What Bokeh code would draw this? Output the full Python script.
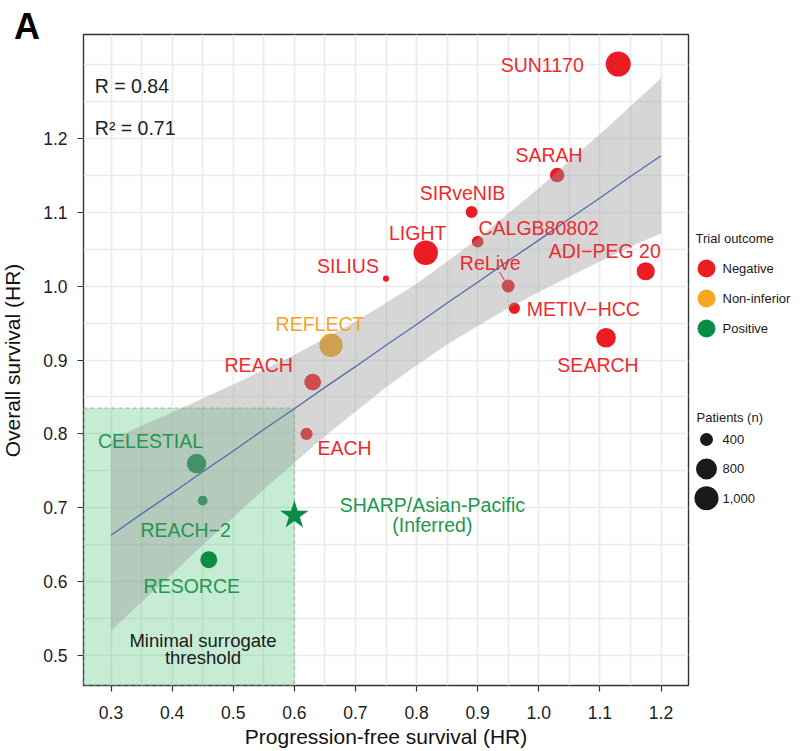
import math
from bokeh.plotting import figure
from bokeh.models import Range1d, FixedTicker, BoxAnnotation, Label, ColumnDataSource
from bokeh.layouts import row
from bokeh.embed import file_html
from bokeh.resources import INLINE
from bokeh.core.properties import value

FONT = "Liberation Sans"

# ---------------- data ----------------
trials = ["SUN1170", "SARAH", "SIRveNIB", "CALGB80802", "LIGHT", "ADI\u2212PEG 20",
          "SILIUS", "ReLive", "METIV\u2212HCC", "SEARCH", "REFLECT", "REACH", "EACH",
          "CELESTIAL", "REACH\u22122", "RESORCE"]
pfs_hr = [1.13, 1.03, 0.89, 0.90, 0.815, 1.175, 0.75, 0.95, 0.96, 1.11, 0.66, 0.63, 0.62,
          0.44, 0.45, 0.46]
os_hr = [1.30, 1.15, 1.10, 1.06, 1.045, 1.02, 1.01, 1.00, 0.97, 0.93, 0.92, 0.87, 0.80,
         0.76, 0.71, 0.63]
outcome = ["Negative"] * 10 + ["Non-inferior"] + ["Negative"] * 2 + ["Positive"] * 3
patients = [1074, 459, 360, 356, 1035, 635, 205, 397, 340, 720, 954, 565, 371, 707, 292, 573]

sharp_label = ["SHARP/Asian-Pacific", "(Inferred)"]
sharp_pfs = [0.60]
sharp_os = [0.69]

# regression fit and 95% band
fit_x = [0.30, 0.35, 0.40, 0.45, 0.50, 0.55, 0.60, 0.65, 0.70, 0.75, 0.80, 0.85, 0.90,
         0.95, 1.00, 1.05, 1.10, 1.15, 1.20]
fit_y = [0.663, 0.692, 0.720, 0.749, 0.777, 0.806, 0.834, 0.863, 0.891, 0.920, 0.948,
         0.977, 1.005, 1.034, 1.062, 1.091, 1.119, 1.148, 1.176]
band_upper = [0.792, 0.811, 0.829, 0.848, 0.867, 0.887, 0.907, 0.929, 0.952, 0.977, 1.003,
              1.033, 1.064, 1.098, 1.132, 1.169, 1.205, 1.243, 1.281]
band_lower = [0.534, 0.573, 0.611, 0.650, 0.687, 0.725, 0.761, 0.797, 0.830, 0.863, 0.893,
              0.921, 0.946, 0.970, 0.992, 1.013, 1.033, 1.053, 1.071]

r_text = "R = 0.84"
r2_text = "R\u00b2 = 0.71"
threshold_pfs = 0.60
threshold_os = 0.835
threshold_text = ["Minimal surrogate", "threshold"]

x_title = "Progression-free survival (HR)"
y_title = "Overall survival (HR)"
panel_letter = "A"

x_ticks = [0.3, 0.4, 0.5, 0.6, 0.7, 0.8, 0.9, 1.0, 1.1, 1.2]
x_tick_labels = ["0.3", "0.4", "0.5", "0.6", "0.7", "0.8", "0.9", "1.0", "1.1", "1.2"]
y_ticks = [0.5, 0.6, 0.7, 0.8, 0.9, 1.0, 1.1, 1.2]
y_tick_labels = ["0.5", "0.6", "0.7", "0.8", "0.9", "1.0", "1.1", "1.2"]

outcome_levels = ["Negative", "Non-inferior", "Positive"]
legend_patients = [400, 800, 1000]
legend_patient_labels = ["400", "800", "1,000"]

# ---------------- styles ----------------
point_colors = {"Negative": "#EC1C24", "Non-inferior": "#F6A623", "Positive": "#0B8C45"}
text_colors = {"Negative": "#EE2A2F", "Non-inferior": "#F5A52B", "Positive": "#23964F"}

# label offsets in pixels (dx right, dy down) relative to the point
label_offsets = {
    "SUN1170": (-76, 1), "SARAH": (-8, -20), "SIRveNIB": (-9, -19),
    "CALGB80802": (61, -14), "LIGHT": (-8, -20), "ADI\u2212PEG 20": (-41, -20),
    "SILIUS": (-38, -13), "ReLive": (-18, -23), "METIV\u2212HCC": (69, 1),
    "SEARCH": (-8, 27), "REFLECT": (-11, -21), "REACH": (-54, -17), "EACH": (38, 14),
    "CELESTIAL": (-46, -23), "REACH\u22122": (-17, 29), "RESORCE": (-17, 26),
}


def diam(n):
    return math.sqrt(0.68 * n - 103)


H = 750
W_LEFT, W_MAIN, W_LEG = 40, 653, 107


def blank_strip(width):
    f = figure(width=width, height=H, x_range=Range1d(0, width), y_range=Range1d(H, 0),
               output_backend="svg", toolbar_location=None, min_border=0,
               x_axis_location=None, y_axis_location=None)
    f.title.visible = False
    f.grid.visible = False
    f.outline_line_color = None
    f.frame_align = False
    return f


# ---------------- left strip: panel letter + y title ----------------
left = blank_strip(W_LEFT)
left.text([26.5], [26], text=[panel_letter], text_align="center", text_baseline="middle",
          text_font=value(FONT), text_font_size="36px", text_font_style="bold",
          text_color="#000000")
left.text([12], [360], text=[y_title], angle=math.pi / 2, text_align="center",
          text_baseline="middle", text_font=value(FONT), text_font_size="21px",
          text_color="#111111")

# ---------------- main panel ----------------
p = figure(width=W_MAIN, height=H, x_range=Range1d(0.255, 1.245), y_range=Range1d(0.46, 1.34),
           output_backend="svg", toolbar_location=None,
           min_border_left=41, min_border_right=5, min_border_top=34, min_border_bottom=65)
p.frame_align = False
p.title.visible = False
p.background_fill_color = "white"
p.border_fill_color = "white"
p.outline_line_color = "#333333"
p.outline_line_width = 1.4

grid_x = [round(0.30 + 0.05 * i, 2) for i in range(19)]
grid_y = [round(0.50 + 0.05 * i, 2) for i in range(17)]
p.xgrid.ticker = FixedTicker(ticks=grid_x)
p.ygrid.ticker = FixedTicker(ticks=grid_y)
p.grid.grid_line_color = "#EBEBEB"
p.grid.grid_line_width = 1.7

for ax, ticks, labels in ((p.xaxis, x_ticks, x_tick_labels), (p.yaxis, y_ticks, y_tick_labels)):
    ax.ticker = FixedTicker(ticks=ticks)
    ax.major_label_overrides = {t: l for t, l in zip(ticks, labels)}
    ax.axis_line_color = None
    ax.major_tick_line_color = "#333333"
    ax.major_tick_line_width = 1.2
    ax.major_tick_out = 6
    ax.major_tick_in = 0
    ax.minor_tick_line_color = None
    ax.major_label_text_font = FONT
    ax.major_label_text_font_size = "17.5px"
    ax.major_label_text_color = "#222222"
    ax.axis_label_text_font = FONT
    ax.axis_label_text_font_size = "21px"
    ax.axis_label_text_font_style = "normal"
    ax.axis_label_text_color = "#111111"

p.xaxis.axis_label = x_title
p.xaxis.major_label_standoff = 14
p.xaxis.axis_label_standoff = 3
p.yaxis.major_label_standoff = 10

# threshold region
box = BoxAnnotation(right=threshold_pfs, top=threshold_os, fill_color="#33BB66", fill_alpha=0.28,
                    line_color="#A8A8A8", line_dash="4 3", line_width=1.2, line_alpha=0.8,
                    level="underlay")
p.add_layout(box)

# points
src = ColumnDataSource(dict(
    x=pfs_hr, y=os_hr, name=trials,
    size=[diam(n) for n in patients],
    color=[point_colors[o] for o in outcome],
    tcolor=[text_colors[o] for o in outcome],
    dx=[label_offsets[t][0] for t in trials],
    dy=[label_offsets[t][1] for t in trials],
))
p.scatter("x", "y", size="size", fill_color="color", line_color=None, source=src)
p.scatter(sharp_pfs, sharp_os, marker="star", size=30, fill_color=point_colors["Positive"],
          line_color=None)

# confidence band + fit line
p.varea(x=fit_x, y1=band_lower, y2=band_upper, fill_color="#999999", fill_alpha=0.4)
p.line(fit_x, fit_y, line_color="#4F6FA8", line_width=1.3)

# ReLive leader segment
i_rl = trials.index("ReLive")
px_x = 0.99 / 607
px_y = 0.88 / 652
p.segment(x0=[pfs_hr[i_rl] - 8.7 * px_x], y0=[os_hr[i_rl] + 14 * px_y],
          x1=[pfs_hr[i_rl] - 3.7 * px_x], y1=[os_hr[i_rl] + 5.6 * px_y],
          line_color=text_colors["Negative"], line_width=1)

# labels
p.text("x", "y", text="name", x_offset="dx", y_offset="dy", text_color="tcolor",
       text_align="center", text_baseline="middle", text_font=value(FONT),
       text_font_size="19.5px", source=src)
for k, dy in enumerate((-10, 10)):
    p.text(sharp_pfs, sharp_os, text=[sharp_label[k]], x_offset=138, y_offset=dy,
           text_color=text_colors["Positive"], text_align="center", text_baseline="middle",
           text_font=value(FONT), text_font_size="19.5px")

for k, yy in enumerate((0.5215, 0.4972)):
    p.add_layout(Label(x=0.4505, y=yy, text=threshold_text[k], text_align="center",
                       text_baseline="middle", text_font=FONT, text_font_size="18.5px",
                       text_color="#1A1A1A"))

p.add_layout(Label(x=0.2735, y=1.2698, text=r_text, text_align="left", text_baseline="middle",
                   text_font=FONT, text_font_size="19.5px", text_color="#222222"))
p.add_layout(Label(x=0.2735, y=1.2131, text=r2_text, text_align="left", text_baseline="middle",
                   text_font=FONT, text_font_size="19.5px", text_color="#222222"))

# ---------------- legend panel ----------------
leg = blank_strip(W_LEG)
lt_kw = dict(text_font=value(FONT), text_font_size="13px", text_color="#1A1A1A",
             text_baseline="middle", text_align="left")
leg.text([2], [238], text=["Trial outcome"], **lt_kw)
oy = [268 + 30 * i for i in range(len(outcome_levels))]
leg.scatter([13] * len(oy), oy, size=18, fill_color=[point_colors[o] for o in outcome_levels],
            line_color=None)
leg.text([29] * len(oy), oy, text=outcome_levels, **lt_kw)

leg.text([3], [417], text=["Patients (n)"], **lt_kw)
py = [439 + 29.4 * i for i in range(len(legend_patients))]
leg.scatter([13] * len(py), py, size=[diam(n) for n in legend_patients], fill_color="#1A1A1A",
            line_color=None)
leg.text([29] * len(py), py, text=legend_patient_labels, **lt_kw)

layout = row(left, p, leg)
open("out.html", "w").write(file_html(layout, INLINE))
